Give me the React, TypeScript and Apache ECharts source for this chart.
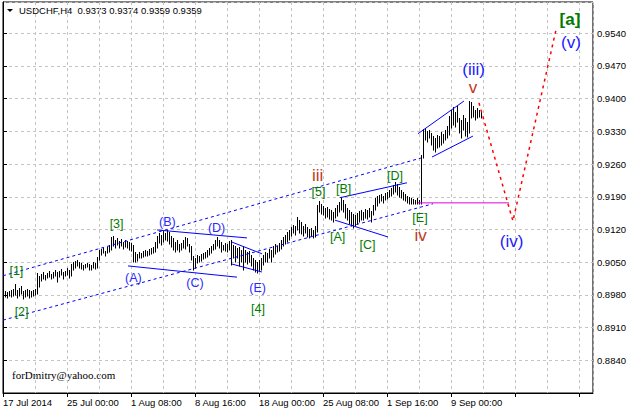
import React, { useEffect, useRef } from "react";
import * as echarts from "echarts";

// ---------- data ----------
const titleText = "USDCHF,H4  0.9373 0.9374 0.9359 0.9359";
const watermark = "forDmitry@yahoo.com";
const timeLabels = ["17 Jul 2014", "25 Jul 00:00", "1 Aug 08:00", "8 Aug 16:00", "18 Aug 00:00", "25 Aug 08:00", "1 Sep 16:00", "9 Sep 00:00"];

// H4 bars (high / low), oldest first
const highs = [
  0.8988, 0.8986, 0.8988, 0.8991, 0.8993, 0.9003, 0.8991, 0.8995, 0.8999, 0.8988,
  0.8991, 0.8993, 0.8991, 0.8988, 0.8991, 0.8993, 0.9027, 0.9021, 0.9025, 0.9029,
  0.9023, 0.9027, 0.9031, 0.9025, 0.9029, 0.9033, 0.9029, 0.9031, 0.9036, 0.9029,
  0.9031, 0.9038, 0.9033, 0.9046, 0.9050, 0.9053, 0.9055, 0.9050, 0.9048, 0.9044,
  0.9046, 0.9048, 0.9046, 0.9044, 0.9050, 0.9048, 0.9061, 0.9076, 0.9078, 0.9080,
  0.9074, 0.9083, 0.9087, 0.9104, 0.9106, 0.9098, 0.9102, 0.9095, 0.9100, 0.9093,
  0.9098, 0.9095, 0.9093, 0.9091, 0.9087, 0.9072, 0.9068, 0.9072, 0.9070, 0.9074,
  0.9076, 0.9074, 0.9078, 0.9080, 0.9083, 0.9093, 0.9106, 0.9113, 0.9108, 0.9117,
  0.9113, 0.9119, 0.9115, 0.9106, 0.9102, 0.9093, 0.9098, 0.9089, 0.9091, 0.9098,
  0.9104, 0.9102, 0.9089, 0.9085, 0.9063, 0.9059, 0.9065, 0.9063, 0.9068, 0.9070,
  0.9072, 0.9076, 0.9080, 0.9085, 0.9089, 0.9098, 0.9104, 0.9098, 0.9093, 0.9087,
  0.9091, 0.9089, 0.9095, 0.9098, 0.9087, 0.9085, 0.9080, 0.9083, 0.9076, 0.9085,
  0.9076, 0.9072, 0.9074, 0.9065, 0.9059, 0.9055, 0.9050, 0.9055, 0.9059, 0.9065,
  0.9072, 0.9070, 0.9078, 0.9076, 0.9085, 0.9089, 0.9085, 0.9091, 0.9098, 0.9104,
  0.9108, 0.9115, 0.9119, 0.9125, 0.9130, 0.9128, 0.9147, 0.9140, 0.9136, 0.9128,
  0.9132, 0.9125, 0.9121, 0.9123, 0.9119, 0.9128, 0.9173, 0.9181, 0.9175, 0.9170,
  0.9166, 0.9168, 0.9164, 0.9162, 0.9158, 0.9166, 0.9173, 0.9179, 0.9190, 0.9183,
  0.9175, 0.9166, 0.9162, 0.9158, 0.9153, 0.9151, 0.9155, 0.9160, 0.9162, 0.9158,
  0.9164, 0.9162, 0.9166, 0.9160, 0.9173, 0.9188, 0.9192, 0.9194, 0.9196, 0.9192,
  0.9198, 0.9200, 0.9205, 0.9209, 0.9215, 0.9222, 0.9217, 0.9211, 0.9205, 0.9200,
  0.9196, 0.9192, 0.9190, 0.9188, 0.9185, 0.9183, 0.9188, 0.9183, 0.9280, 0.9335,
  0.9337, 0.9331, 0.9333, 0.9327, 0.9320, 0.9316, 0.9322, 0.9320, 0.9329, 0.9325,
  0.9333, 0.9342, 0.9363, 0.9376, 0.9382, 0.9372, 0.9384, 0.9359, 0.9355, 0.9365,
  0.9359, 0.9350, 0.9395, 0.9393, 0.9384, 0.9376, 0.9380, 0.9376, 0.9374,
];
const lows = [
  0.8976, 0.8973, 0.8978, 0.8976, 0.8978, 0.8980, 0.8973, 0.8978, 0.8982, 0.8971,
  0.8976, 0.8978, 0.8973, 0.8976, 0.8978, 0.8980, 0.8982, 0.8997, 0.9010, 0.9014,
  0.9012, 0.9016, 0.9018, 0.9014, 0.9016, 0.9021, 0.9008, 0.9018, 0.9023, 0.9014,
  0.9021, 0.9023, 0.9016, 0.9021, 0.9033, 0.9038, 0.9042, 0.9038, 0.9036, 0.9033,
  0.9038, 0.9040, 0.9033, 0.9033, 0.9038, 0.9036, 0.9038, 0.9055, 0.9065, 0.9070,
  0.9063, 0.9070, 0.9072, 0.9076, 0.9085, 0.9080, 0.9087, 0.9080, 0.9085, 0.9078,
  0.9083, 0.9080, 0.9076, 0.9074, 0.9050, 0.9050, 0.9053, 0.9059, 0.9059, 0.9061,
  0.9063, 0.9063, 0.9065, 0.9068, 0.9070, 0.9072, 0.9080, 0.9091, 0.9087, 0.9093,
  0.9098, 0.9095, 0.9089, 0.9083, 0.9076, 0.9072, 0.9076, 0.9072, 0.9076, 0.9080,
  0.9078, 0.9085, 0.9072, 0.9055, 0.9033, 0.9038, 0.9048, 0.9050, 0.9053, 0.9057,
  0.9059, 0.9061, 0.9065, 0.9070, 0.9076, 0.9078, 0.9085, 0.9080, 0.9072, 0.9076,
  0.9074, 0.9072, 0.9076, 0.9044, 0.9059, 0.9050, 0.9059, 0.9042, 0.9050, 0.9033,
  0.9050, 0.9046, 0.9050, 0.9042, 0.9033, 0.9029, 0.9027, 0.9031, 0.9033, 0.9044,
  0.9050, 0.9050, 0.9059, 0.9050, 0.9061, 0.9068, 0.9072, 0.9074, 0.9078, 0.9085,
  0.9089, 0.9093, 0.9098, 0.9106, 0.9113, 0.9108, 0.9119, 0.9113, 0.9110, 0.9106,
  0.9113, 0.9104, 0.9102, 0.9106, 0.9102, 0.9104, 0.9115, 0.9158, 0.9153, 0.9151,
  0.9145, 0.9147, 0.9143, 0.9140, 0.9136, 0.9145, 0.9149, 0.9158, 0.9162, 0.9158,
  0.9145, 0.9140, 0.9132, 0.9128, 0.9123, 0.9128, 0.9132, 0.9136, 0.9140, 0.9140,
  0.9145, 0.9143, 0.9147, 0.9136, 0.9151, 0.9162, 0.9170, 0.9177, 0.9181, 0.9177,
  0.9183, 0.9185, 0.9190, 0.9192, 0.9196, 0.9200, 0.9194, 0.9190, 0.9188, 0.9183,
  0.9181, 0.9177, 0.9175, 0.9175, 0.9175, 0.9175, 0.9175, 0.9175, 0.9175, 0.9273,
  0.9312, 0.9307, 0.9316, 0.9301, 0.9290, 0.9286, 0.9295, 0.9297, 0.9301, 0.9305,
  0.9312, 0.9316, 0.9322, 0.9337, 0.9344, 0.9340, 0.9350, 0.9327, 0.9316, 0.9333,
  0.9320, 0.9318, 0.9327, 0.9359, 0.9361, 0.9355, 0.9359, 0.9361, 0.9359,
];

// trend lines: [bar position, price]
const channelUpper = [[0, 0.9021], [209, 0.9273]];
const channelLower = [[0, 0.8926], [215, 0.9175]];
const lineAC = [[62.5, 0.9042], [117, 0.9018]];
const lineBD = [[77, 0.9119], [122, 0.9102]];
const triUpper = [[114.5, 0.9093], [129.5, 0.9068]];
const triLower = [[114.5, 0.9046], [129.5, 0.9029]];
const line5AC = [[166, 0.914], [192.5, 0.9104]];
const line5BD = [[168.5, 0.9188], [202, 0.922]];
const wedgeUpper = [[207.5, 0.9325], [230.5, 0.9395]];
const wedgeLower = [[214.5, 0.9275], [235, 0.932]];
const levelE = [[207.5, 0.9177], [253, 0.9177]];
const projection = [[238, 0.9391], [255, 0.9138], [276.5, 0.9547]];

// wave labels: [bar position, price, text]
const greenLabels = [
  [6.7, 0.9031, "[1]"], [9.3, 0.8943, "[2]"], [56.8, 0.9132, "[3]"], [127.5, 0.8950, "[4]"],
  [157.8, 0.9201, "[5]"], [167.3, 0.9105, "[A]"], [170.3, 0.9207, "[B]"], [182.3, 0.9087, "[C]"],
  [196, 0.9234, "[D]"], [208.5, 0.9144, "[E]"],
];
const greenBig = [[283.5, 0.9569, "[a]"]];
const blueLabels = [
  [65.2, 0.9016, "(A)"], [82.2, 0.9135, "(B)"], [96, 0.9005, "(C)"], [106.8, 0.9124, "(D)"], [127.3, 0.8995, "(E)"],
];
const blueBig = [[235.3, 0.9463, "(iii)"], [254.3, 0.9094, "(iv)"], [284, 0.952, "(v)"]];
const redLabels = [[157.3, 0.9235, "iii"], [208.8, 0.9108, "iv"], [235, 0.9423, "v"]];

const FONT = '"Liberation Sans", Arial, sans-serif';

export default function App() {
  const ref = useRef<HTMLDivElement>(null);
  useEffect(() => {
    if (!ref.current) return;
    const chart = echarts.init(ref.current, undefined, { renderer: "svg" });
    const barData = highs.map((h, i) => [i + 1, lows[i], h]);

    const lineSeries = (data: number[][], color: string, type: any, width = 1) => ({
      type: "line",
      data,
      symbol: "none",
      showSymbol: false,
      silent: true,
      z: 4,
      lineStyle: { color, width, type },
    });
    const labelSeries = (items: any[], color: string, size: number, weight = "normal") => ({
      type: "scatter",
      data: items.map(([x, p, t]) => ({ value: [x, p], name: t })),
      symbolSize: 0,
      itemStyle: { color: "transparent", opacity: 1 },
      silent: true,
      z: 6,
      label: {
        show: true,
        position: "inside",
        formatter: "{b}",
        color,
        fontSize: size,
        fontWeight: weight,
        fontFamily: FONT,
        textBorderWidth: 0,
        opacity: 1,
      },
    });

    chart.setOption({
      animation: false,
      backgroundColor: "#ffffff",
      grid: { left: 3, right: 36, top: 2, bottom: 16, show: true, borderColor: "#000", borderWidth: 1, backgroundColor: "transparent" },
      xAxis: [
        {
          type: "value", min: 0, max: 295, interval: 16,
          axisLine: { show: true, lineStyle: { color: "#000" } },
          axisTick: { show: false }, axisLabel: { show: false },
          splitLine: { show: true, lineStyle: { color: "#c4c4c4", type: [3, 3] } },
        },
        {
          type: "value", min: 0, max: 295, interval: 32, position: "bottom",
          axisLine: { show: false },
          axisTick: { show: true, length: 4, lineStyle: { color: "#000" } },
          splitLine: { show: false },
          axisLabel: {
            show: true, align: "left", margin: 4, fontSize: 9.5, color: "#000", fontFamily: FONT,
            showMaxLabel: false,
            formatter: (v: number) => {
              const k = Math.round(v / 32);
              return Math.abs(v - k * 32) < 0.01 && k < timeLabels.length ? timeLabels[k] : "";
            },
          },
        },
      ],
      yAxis: {
        type: "value", position: "right", min: 0.877, max: 0.9607, interval: 0.007,
        axisLine: { show: true, lineStyle: { color: "#000" } },
        axisTick: { show: true, length: 4, lineStyle: { color: "#000" } },
        splitLine: { show: true, lineStyle: { color: "#c4c4c4", type: [3, 3] } },
        axisLabel: {
          margin: 4, fontSize: 9.5, color: "#000", fontFamily: FONT,
          showMinLabel: false, showMaxLabel: false,
          formatter: (v: number) => v.toFixed(4),
        },
      },
      graphic: [
        { type: "polygon", shape: { points: [[7, 9], [13, 9], [10, 12]] }, style: { fill: "#000" } },
        { type: "text", x: 19, y: 5, style: { text: titleText, fontSize: 9.5, fontFamily: FONT, fill: "#000" } },
        { type: "text", x: 12, y: 369, style: { text: watermark, fontSize: 11, fontFamily: '"Liberation Serif", "Times New Roman", serif', fill: "#000" } },
      ],
      series: [
        {
          type: "custom",
          data: barData,
          encode: { x: 0, y: [1, 2] },
          silent: true,
          z: 3,
          renderItem: (params: any, api: any) => {
            const x = api.value(0);
            const lo = api.coord([x, api.value(1)]);
            const hi = api.coord([x, api.value(2)]);
            const px = Math.round(lo[0]) + 0.5;
            return {
              type: "line",
              shape: { x1: px, y1: Math.round(lo[1]) + 0.5, x2: px, y2: Math.round(hi[1]) },
              style: { stroke: "#000", lineWidth: 1 },
            };
          },
        },
        lineSeries(channelUpper, "#0000ff", [3, 3]),
        lineSeries(channelLower, "#0000ff", [3, 3]),
        lineSeries(lineAC, "#0000ff", "solid"),
        lineSeries(lineBD, "#0000ff", "solid"),
        lineSeries(triUpper, "#0000ff", "solid"),
        lineSeries(triLower, "#0000ff", "solid"),
        lineSeries(line5AC, "#0000ff", "solid"),
        lineSeries(line5BD, "#0000ff", "solid"),
        lineSeries(wedgeUpper, "#0000ff", "solid"),
        lineSeries(wedgeLower, "#0000ff", "solid"),
        lineSeries(levelE, "#e000e0", "solid"),
        lineSeries(projection, "#ff0000", [3, 4], 1.5),
        labelSeries(greenLabels, "#007a00", 12.5),
        labelSeries(greenBig, "#007a00", 17, "bold"),
        labelSeries(blueLabels, "#2a2aff", 12.5),
        labelSeries(blueBig, "#1a1aff", 17),
        labelSeries(redLabels, "#c0381a", 17),
      ],
    });
    return () => chart.dispose();
  }, []);
  return <div ref={ref} style={{ position: "absolute", left: 0, top: 0, width: 629, height: 409 }} />;
}
